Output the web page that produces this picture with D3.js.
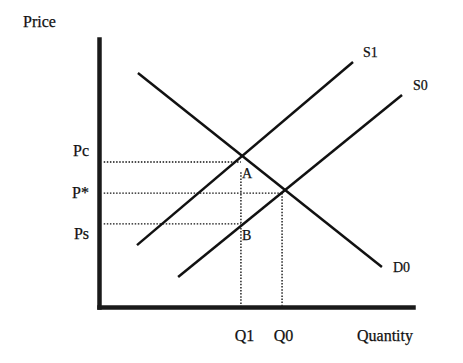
<!DOCTYPE html>
<html lang="en">
<head>
    <meta charset="UTF-8">
    <title>Price Support Diagram</title>
    <script src="https://d3js.org/d3.v7.min.js"></script>
    <style>
        body { margin: 0; background: #fff; }
        svg text { font-family: "Liberation Serif", "DejaVu Serif", serif; fill: #111; stroke: #111; stroke-width: 0.25px; }
    </style>
</head>
<body>
    <div id="chart"></div>

    <script>
        // curves as [quantity, price] end points
        const demandD0 = [[12.4, 87.3], [90.1, 14.9]];
        const supplyS1 = [[12.1, 23.1], [80.9, 91.4]];
        const supplyS0 = [[25.2, 11.2], [96.5, 79.1]];
        const curveNames = ["D0", "S1", "S0"];

        const priceLabels = ["Pc", "P*", "Ps"];
        const priceValues = [54.1, 42.5, 31.0];
        const qtyLabels = ["Q1", "Q0"];
        const qtyValues = [45.2, 58.3];

        // guide lines: price level runs out to this quantity
        const guideQty = [45.2, 58.3, 45.2];
        const pointNames = ["A", "B"];
        const pointPrices = [54.1, 31.0];

        const width = 463, height = 363;

        const svg = d3.select("#chart")
            .append("svg")
            .attr("width", width)
            .attr("height", height);

        const x = d3.scaleLinear().domain([0, 100]).range([99, 413]);
        const y = d3.scaleLinear().domain([0, 100]).range([307, 39]);

        // dotted guides
        const guides = svg.append("g")
            .attr("stroke", "#111")
            .attr("stroke-width", 1.4)
            .attr("stroke-dasharray", "1.5,1.6");

        guides.selectAll(".h-guide")
            .data(priceValues)
            .enter()
            .append("line")
            .attr("x1", x(1.5))
            .attr("x2", (d, i) => x(guideQty[i]))
            .attr("y1", d => y(d))
            .attr("y2", d => y(d));

        guides.selectAll(".v-guide")
            .data(qtyValues)
            .enter()
            .append("line")
            .attr("x1", d => x(d))
            .attr("x2", d => x(d))
            .attr("y1", (d, i) => y(i === 0 ? 50.3 : 42.5))
            .attr("y2", y(0.5));

        // curves
        const line = d3.line().x(d => x(d[0])).y(d => y(d[1]));
        const curves = [demandD0, supplyS1, supplyS0];

        svg.selectAll(".curve")
            .data(curves)
            .enter()
            .append("path")
            .attr("class", "curve")
            .attr("d", line)
            .attr("fill", "none")
            .attr("stroke", "#111")
            .attr("stroke-width", 2.5);

        const labelShift = [[11, 5], [10, -5], [11, -5]];
        svg.selectAll(".curve-label")
            .data(curves)
            .enter()
            .append("text")
            .attr("x", (d, i) => x(d[1][0]) + labelShift[i][0])
            .attr("y", (d, i) => y(d[1][1]) + labelShift[i][1])
            .style("font-size", "14px")
            .text((d, i) => curveNames[i]);

        // A and B
        svg.selectAll(".pt-label")
            .data(pointPrices)
            .enter()
            .append("text")
            .attr("x", x(qtyValues[0]) + 1)
            .attr("y", d => y(d) + 16)
            .style("font-size", "14px")
            .text((d, i) => pointNames[i]);

        // axes
        const yAxis = svg.append("g")
            .attr("transform", `translate(${x(0)},0)`)
            .call(d3.axisLeft(y)
                .tickValues(priceValues)
                .tickFormat((d, i) => priceLabels[i])
                .tickSize(0)
                .tickSizeOuter(0)
                .tickPadding(10));

        const priceShift = [-12, -1, 9];
        yAxis.selectAll(".tick text")
            .attr("dy", (d, i) => `${0.32 * 16 + priceShift[i]}px`)
            .style("font-size", "16px");

        const xAxis = svg.append("g")
            .attr("transform", `translate(0,${y(0)})`)
            .call(d3.axisBottom(x)
                .tickValues(qtyValues)
                .tickFormat((d, i) => qtyLabels[i])
                .tickSize(0)
                .tickSizeOuter(0)
                .tickPadding(23));

        xAxis.selectAll(".tick text")
            .attr("dx", (d, i) => i === 0 ? 3 : 1)
            .style("font-size", "16px");

        svg.selectAll(".domain")
            .attr("stroke", "#1a1a1a")
            .attr("stroke-width", 4.5)
            .attr("stroke-linecap", "square");

        svg.append("text")
            .attr("x", 23)
            .attr("y", 27)
            .style("font-size", "16px")
            .text("Price");

        svg.append("text")
            .attr("x", x(100))
            .attr("y", y(0) + 34)
            .attr("text-anchor", "end")
            .style("font-size", "16px")
            .text("Quantity");
    </script>
</body>
</html>
